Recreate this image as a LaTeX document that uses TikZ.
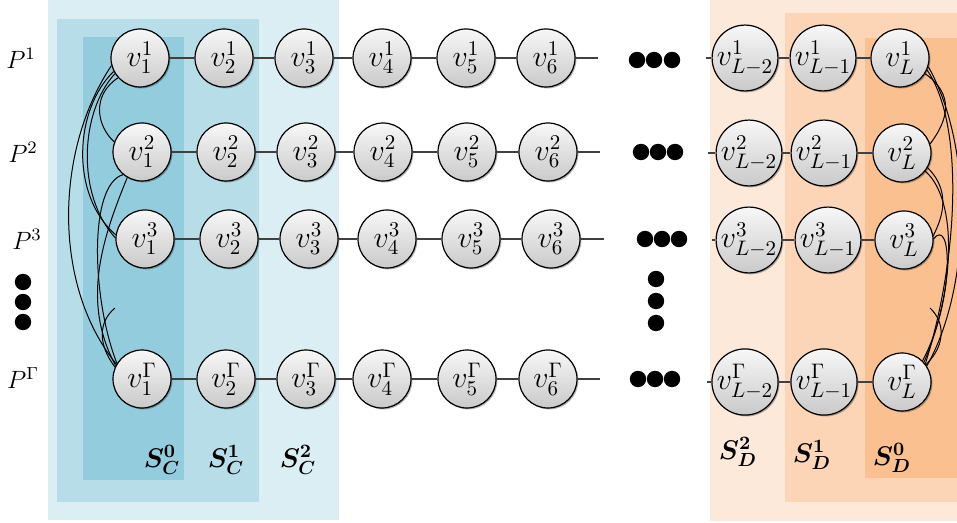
\RequirePackage{fix-cm}
\documentclass[tikz,border=0pt]{standalone}
\usepackage{amsmath,bm}
\usetikzlibrary{shadows}
\definecolor{bluA}{HTML}{DAEEF3}
\definecolor{bluB}{HTML}{B7DEE8}
\definecolor{bluC}{HTML}{93CDDD}
\definecolor{orgA}{HTML}{FDE9D9}
\definecolor{orgB}{HTML}{FBD5B5}
\definecolor{orgC}{HTML}{FAC090}
\tikzset{
  vnode/.style={circle, draw=black, line width=0.6pt, minimum size=29pt, inner sep=0pt,
    top color=gray!6, bottom color=gray!42,
    drop shadow={shadow xshift=0.7pt, shadow yshift=-0.7pt, opacity=0.3, fill=black},
    font=\fontsize{15}{17}\selectfont},
  link/.style={draw=black!75, line width=0.6pt},
  cur/.style={draw=black, line width=0.5pt},
  bigdot/.style={circle, fill=black, minimum size=8.2pt, inner sep=0pt},
  plabel/.style={font=\fontsize{12.5}{14}\selectfont},
  slabel/.style={font=\fontsize{13.5}{15}\selectfont}
}
\begin{document}
\begin{tikzpicture}[x=0.5pt,y=-0.5pt]
\useasboundingbox (0,0) rectangle (957,523);
% background regions
\fill[bluA] (48,0) rectangle (339,520);
\fill[bluB] (57,19) rectangle (259,502);
\fill[bluC] (83,37) rectangle (184,480);
\fill[orgA] (710,0) rectangle (957,521);
\fill[orgB] (785,13) rectangle (957,502);
\fill[orgC] (865,38) rectangle (957,478);
% rows
\foreach \r/\y/\yr/\s/\xa/\xb/\xc/\xd/\xe/\xf/\xend/\xst/\xp/\xq/\xw in {
  1/58/58/1/140/224/304/382/466/546/598/706/745/823/900,
  2/152/153/2/142/226/306/383/467/548/600/708/749/824/902,
  3/239/240/3/145/229/309/387/471/551/604/712/749/828/904,
  G/379/382/\Gamma/142/226/306/382/467/548/600/707/745/824/902}
{
  \node[vnode] (n\r-1) at (\xa,\y) {$v_1^{\s}$};
  \node[vnode] (n\r-2) at (\xb,\y) {$v_2^{\s}$};
  \node[vnode] (n\r-3) at (\xc,\y) {$v_3^{\s}$};
  \node[vnode] (n\r-4) at (\xd,\y) {$v_4^{\s}$};
  \node[vnode] (n\r-5) at (\xe,\y) {$v_5^{\s}$};
  \node[vnode] (n\r-6) at (\xf,\y) {$v_6^{\s}$};
  \coordinate (e\r) at (\xend,\y);
  \coordinate (s\r) at (\xst,\yr);
  \node[vnode] (n\r-La) at (\xp,\yr) {$v_{L-2}^{\s}$};
  \node[vnode] (n\r-Lb) at (\xq,\yr) {$v_{L-1}^{\s}$};
  \node[vnode] (n\r-Lc) at (\xw,\yr) {$v_{L}^{\s}$};
  \draw[link] (n\r-1) -- (n\r-2) -- (n\r-3) -- (n\r-4) -- (n\r-5) -- (n\r-6) -- (e\r);
  \draw[link] (s\r) -- (n\r-La) -- (n\r-Lb) -- (n\r-Lc);
}
% dots
\foreach \i/\x/\y in {1/637/60,2/654/60,3/672/60,4/641/152,5/658/152,6/675/152,
  7/645/239,8/662/239,9/679/239,10/638/379,11/655/379,12/672/379,
  13/656/279,14/656/301,15/656/323,16/23/282,17/23/302,18/23/322}
  \node[bigdot] (dot\i) at (\x,\y) {};
% path labels
\node[plabel] (p1) at (21,58) {$P^1$};
\node[plabel] (p2) at (23,152) {$P^2$};
\node[plabel] (p3) at (27,239) {$P^3$};
\node[plabel] (pG) at (23,378) {$P^\Gamma$};
% set labels
\node[slabel] (sc0) at (162,460) {$\bm{S_C^0}$};
\node[slabel] (sc1) at (226,460) {$\bm{S_C^1}$};
\node[slabel] (sc2) at (298,460) {$\bm{S_C^2}$};
\node[slabel] (sd2) at (738,452) {$\bm{S_D^2}$};
\node[slabel] (sd1) at (812,455) {$\bm{S_D^1}$};
\node[slabel] (sd0) at (892,458) {$\bm{S_D^0}$};
% left curves
\draw[cur] (n1-1.195) .. controls (55,150) and (52,285) .. (nG-1.150);
\draw[cur] (n1-1.207) .. controls (74,110) and (70,195) .. (n3-1.172);
\draw[cur] (n1-1.212) .. controls (80,112) and (76,195) .. (n3-1.178);
\draw[cur] (n1-1.222) .. controls (92,95) and (96,125) .. (n2-1.160);
\draw[cur] (n2-1.230) .. controls (88,185) and (92,300) .. (nG-1.148);
\draw[cur] (n2-1.240) .. controls (104,235) and (80,300) .. (nG-1.153);
\coordinate (hl) at (115,308);
\draw[cur] (hl) .. controls (98,322) and (98,345) .. (nG-1.156);
% right curves
\draw[cur] (n1-Lc.343) .. controls (975,150) and (970,290) .. (nG-Lc.33);
\draw[cur] (n1-Lc.336) .. controls (965,125) and (958,260) .. (nG-Lc.38);
\draw[cur] (n1-Lc.328) .. controls (955,95) and (948,120) .. (n2-Lc.18);
\draw[cur] (n2-Lc.322) .. controls (958,200) and (955,290) .. (nG-Lc.42);
\draw[cur] (n2-Lc.330) .. controls (955,195) and (938,225) .. (n3-Lc.8);
\draw[cur] (n3-Lc.2) .. controls (952,215) and (955,300) .. (nG-Lc.46);
\coordinate (hr) at (930,308);
\draw[cur] (hr) .. controls (945,322) and (946,345) .. (nG-Lc.36);
\end{tikzpicture}
\end{document}
